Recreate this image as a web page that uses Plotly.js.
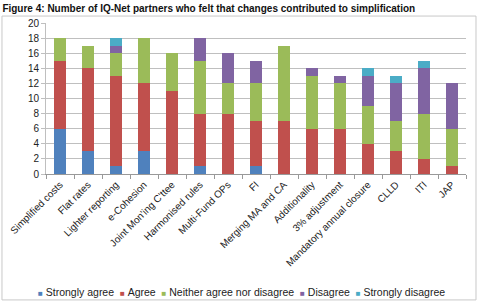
<!DOCTYPE html>
<html><head><meta charset="utf-8">
<script src="https://cdn.plot.ly/plotly-3.0.1.min.js"></script>
<style>html,body{margin:0;padding:0;background:#fff}#c{width:478px;height:302px}</style>
</head><body><div id="c"></div>
<script>
const categories = ["Simplified costs","Flat rates","Lighter reporting","e-Cohesion","Joint Mon'ing C'ttee","Harmonised rules","Multi-Fund OPs","FI","Merging MA and CA","Additionality","3% adjustment","Mandatory annual closure","CLLD","ITI","JAP"];
const stronglyAgree    = [6,3,1,3,0,1,0,1,0,0,0,0,0,0,0];
const agree            = [9,11,12,9,11,7,8,6,7,6,6,4,3,2,1];
const neither          = [3,3,3,6,5,7,4,5,10,7,6,5,4,6,5];
const disagree         = [0,0,1,0,0,3,4,3,0,1,1,4,5,6,6];
const stronglyDisagree = [0,0,1,0,0,0,0,0,0,0,0,1,1,1,0];
const seriesNames = ["Strongly agree","Agree","Neither agree nor disagree","Disagree","Strongly disagree"];
const seriesColors = ["#4F81BD","#C0504D","#9BBB59","#8064A2","#4BACC6"];
const seriesData = [stronglyAgree, agree, neither, disagree, stronglyDisagree];

const traces = seriesData.map((v,i)=>({type:'bar', name:seriesNames[i], x:categories, y:v, marker:{color:seriesColors[i]}, hoverinfo:'none'}));

const legendText = seriesNames.map((n,i)=>`<span style="color:${seriesColors[i]};font-size:8px">■</span>\u00a0${n}`).join('\u00a0\u00a0');

const layout = {
  width:478, height:302,
  margin:{l:46, r:12, t:23, b:128, autoexpand:false},
  barmode:'stack', bargap:0.6,
  font:{family:'Liberation Sans, Arial, sans-serif', size:10, color:'#222'},
  title:{text:'<b>Figure 4: Number of IQ-Net partners who felt that changes contributed to simplification</b>', x:0.005, xanchor:'left', y:0.972, yanchor:'middle', font:{size:10, color:'#111'}},
  xaxis:{type:'category', automargin:false, tickangle:-45, tickson:'boundaries', ticks:'outside', ticklen:4, tickcolor:'#999', showline:true, linecolor:'#999', showgrid:false, tickfont:{size:10, color:'#222'}},
  yaxis:{automargin:false, range:[0,20], dtick:2, showgrid:true, gridcolor:'#bfbfbf', gridwidth:1, showline:true, linecolor:'#bfbfbf', ticks:'outside', ticklen:4, tickcolor:'#bfbfbf', zeroline:false, tickfont:{size:10, color:'#222'}},
  showlegend:false,
  annotations:[{xref:'paper', yref:'paper', x:0.465, y:-0.78, xanchor:'center', yanchor:'middle', showarrow:false, text:legendText, font:{size:10.5, color:'#222'}}],
  shapes:[{type:'rect', xref:'paper', yref:'paper', x0:-0.1048, x1:1.0238, y0:-0.834, y1:1.046, line:{color:'#c8c8c8', width:1}}],
  paper_bgcolor:'#fff', plot_bgcolor:'#fff'
};
Plotly.newPlot('c', traces, layout, {staticPlot:true, displayModeBar:false});
</script></body></html>
